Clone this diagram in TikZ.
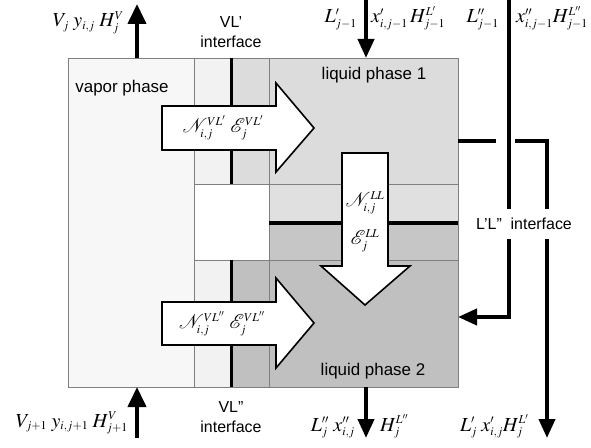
\documentclass[tikz,border=0pt]{standalone}
\usepackage{mathptmx}
\usepackage[no-math]{fontspec}
\setmainfont{Liberation Sans}
\usetikzlibrary{arrows.meta}
\DeclareMathSizes{20}{20}{12}{9}
\definecolor{vapc}{HTML}{F7F7F7}
\definecolor{stripc}{HTML}{F2F2F2}
\definecolor{liqa}{HTML}{DCDCDC}
\definecolor{liqab}{HTML}{E0E0E0}
\definecolor{liqbb}{HTML}{C6C6C6}
\definecolor{liqb}{HTML}{C0C0C0}
\definecolor{edgec}{HTML}{7F7F7F}
\begin{document}
\begin{tikzpicture}[x=1bp,y=-1bp,
  thinedge/.style={draw=edgec,line width=0.9bp},
  iface/.style={line width=3.6bp,line cap=butt},
  flow/.style={line width=4bp,-{Triangle[length=20bp,width=18bp]}},
  flowsm/.style={line width=4bp,-{Triangle[length=19bp,width=16bp]}},
  pipe/.style={line width=4bp},
  blockarrow/.style={draw=black,fill=white,line width=1.6bp,line join=miter},
  lbl/.style={font=\fontsize{17}{20}\selectfont,inner sep=0pt},
  ilbl/.style={font=\fontsize{16}{20}\selectfont,inner sep=0pt,align=center},
  mlbl/.style={font=\fontsize{20}{22}\selectfont,inner sep=0pt},
]
\useasboundingbox (0,0) rectangle (591,448);
% fills
\fill[vapc] (68,58) rectangle (194,387);
\fill[stripc] (194,58) rectangle (232,184);
\fill[stripc] (194,260) rectangle (232,387);
\fill[liqa] (232,58) rectangle (269,184);
\fill[liqb] (232,260) rectangle (269,387);
\fill[white] (194,184) rectangle (269,260);
\fill[liqa] (269,58) rectangle (458,184);
\fill[liqab] (269,184) rectangle (458,223);
\fill[liqbb] (269,223) rectangle (458,260);
\fill[liqb] (269,260) rectangle (458,387);
% thin edges
\draw[thinedge] (68,58) rectangle (458,387);
\draw[thinedge] (194,58) -- (194,387);
\draw[thinedge] (269,58) -- (269,387);
\draw[thinedge] (194,184) -- (458,184);
\draw[thinedge] (194,260) -- (458,260);
% interfaces
\draw[iface] (231.5,58) -- (231.5,184);
\draw[iface] (231.5,260) -- (231.5,387);
\draw[iface] (269,223) -- (458,223);
% block arrows
\draw[blockarrow] (162,106) -- (276,106) -- (276,83) -- (314,128) -- (276,172) -- (276,150) -- (162,150) -- cycle;
\draw[blockarrow] (162,302) -- (276,302) -- (276,278) -- (314,323) -- (276,368) -- (276,345) -- (162,345) -- cycle;
\draw[blockarrow] (342,153) -- (388,153) -- (388,266) -- (410,266) -- (365,305) -- (321,266) -- (342,266) -- cycle;
% phase labels
\node[lbl] (vap) at (122,88) {vapor phase};
\node[lbl] (lp1) at (374,75) {liquid phase 1};
\node[lbl] (lp2) at (373,371) {liquid phase 2};
\node[ilbl] (vl1) at (231,32) {VL’\\interface};
\node[ilbl] (vl2) at (231,417) {VL”\\interface};
% flux labels
\node[mlbl] (nv1) at (223,128) {$\mathcal{N}^{VL'}_{i,j}\;\mathcal{E}^{VL'}_j$};
\node[mlbl] (nv2) at (222,324) {$\mathcal{N}^{VL''}_{i,j}\;\mathcal{E}^{VL''}_j$};
\node[mlbl] (nll) at (365,203) {$\mathcal{N}^{LL}_{i,j}$};
\node[mlbl] (ell) at (365,241) {$\mathcal{E}^{LL}_j$};
% stream coordinates
\coordinate (vout) at (137,4);
\coordinate (vtopbox) at (137,58);
\coordinate (vin) at (137,438);
\coordinate (vbotbox) at (137,387);
\coordinate (l1in) at (366,0);
\coordinate (l1topbox) at (366,58);
\coordinate (l2botbox) at (366,387);
\coordinate (l2out) at (366,438);
\coordinate (l2inA) at (509,0);
\coordinate (l2inB) at (509,317);
\coordinate (l2inbox) at (458,317);
\coordinate (l1outbox) at (458,141);
\coordinate (l1gapA) at (496,141);
\coordinate (l1gapB) at (515,141);
\coordinate (l1corner) at (547,141);
\coordinate (l1out) at (547,438);
% streams
\draw[flow] (vtopbox) -- (vout);
\draw[flow] (vin) -- (vbotbox);
\draw[flowsm] (l1in) -- (l1topbox);
\draw[flowsm] (l2botbox) -- (l2out);
\draw[flowsm] (l2inA) -- (l2inB) -- (l2inbox);
\draw[pipe] (l1outbox) -- (l1gapA);
\draw[flowsm] (l1gapB) -- (l1corner) -- (l1out);
\node[ilbl,fill=white,inner ysep=9bp,inner xsep=1bp] (llif) at (524,224) {L’L”\ \ interface};
% stream labels
\node[mlbl,anchor=base east] (vjl) at (124,27) {$V_j\;y_{i,j}\;H_j^V$};
\node[mlbl,anchor=base east] (vj1l) at (128,427) {$V_{j+1}\;y_{i,j+1}\;H_{j+1}^V$};
\node[mlbl,anchor=base east] (lp1l) at (357,23) {$L'_{j-1}$};
\node[mlbl,anchor=base west] (xp1l) at (371,23) {$x'_{i,j-1}\,H^{L'}_{j-1}$};
\node[mlbl,anchor=base east] (lpp1l) at (499,23) {$L''_{j-1}$};
\node[mlbl,anchor=base west] (xpp1l) at (516,23) {$x''_{i,j-1}H^{L''}_{j-1}$};
\node[mlbl,anchor=base east] (lppl) at (355,431) {$L''_j\;x''_{i,j}$};
\node[mlbl,anchor=base west] (hppl) at (380,431) {$H_j^{L''}$};
\node[mlbl,anchor=base east] (lpl) at (529,431) {$L'_j\;x'_{i,j}H_j^{L'}$};
\end{tikzpicture}
\end{document}
